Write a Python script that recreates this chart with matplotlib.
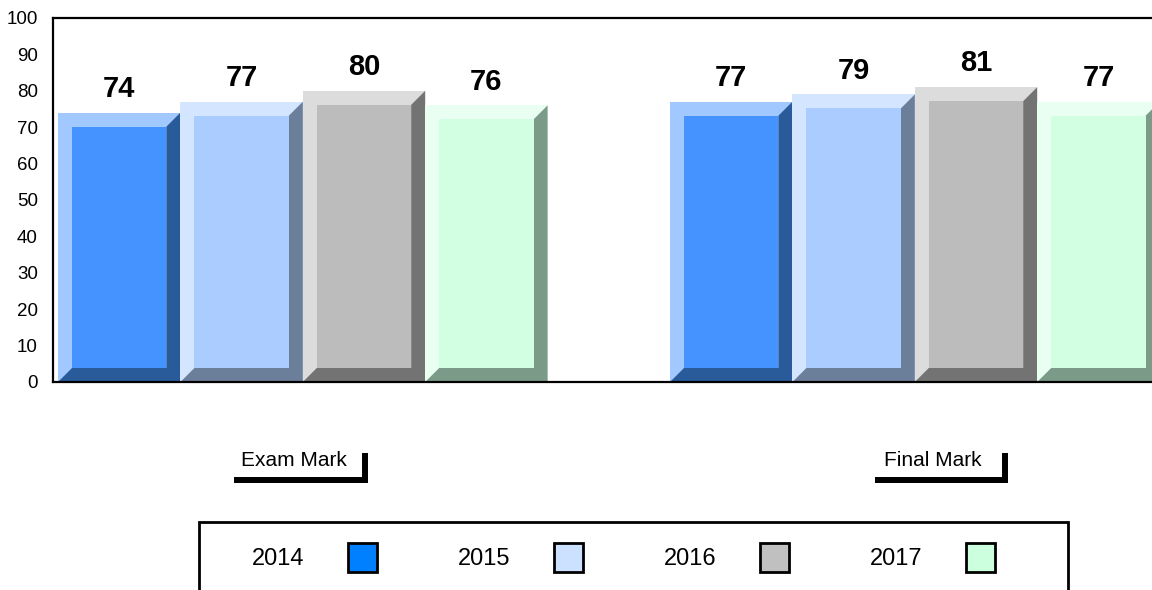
import matplotlib
matplotlib.use('Agg')
import matplotlib.pyplot as plt
from matplotlib.patches import Polygon, Rectangle
from matplotlib.lines import Line2D

plt.rcParams['font.family'] = ['Liberation Sans', 'DejaVu Sans']

# data
categories = ['Exam Mark', 'Final Mark']
years = ['2014', '2015', '2016', '2017']
exam_mark = [74, 77, 80, 76]
final_mark = [77, 79, 81, 77]

# bevel colours per year
face = ['#4493FF', '#AACCFF', '#BCBCBC', '#D2FFE2']
light = ['#A2C9FF', '#D4E6FF', '#DCDCDC', '#E8FFF2']
dark = ['#295B9B', '#6C7F9A', '#737373', '#7C9A88']
swatch = ['#0080FF', '#CCE0FF', '#C0C0C0', '#CCFFDD']

W, H = 1152, 590
fig = plt.figure(figsize=(W / 100, H / 100), dpi=100)
ax = fig.add_axes([53 / W, 1 - 382 / H, (W - 53) / W, 364 / H])

px_per_unit = 122.4
dx = 14 / px_per_unit
dy = 14 / 3.64

for g, vals in enumerate([exam_mark, final_mark]):
    for s, v in enumerate(vals):
        left = g * 5 + s
        ax.bar(left, v, width=1, align='edge', color=light[s], linewidth=0)
        ax.add_patch(Polygon([(left, 0), (left + 1, 0), (left + 1, v),
                              (left + 1 - dx, v - dy), (left + 1 - dx, dy),
                              (left + dx, dy)],
                             closed=True, facecolor=dark[s], edgecolor='none'))
        ax.bar(left + dx, v - 2 * dy, width=1 - 2 * dx, bottom=dy, align='edge',
               color=face[s], linewidth=0)
        ax.annotate(str(v), (left + 0.5, v), xytext=(0, 7), textcoords='offset points',
                    ha='center', va='bottom', fontsize=21, fontweight='bold')

ax.set_xlim(-5 / px_per_unit, 1094 / px_per_unit)
ax.set_ylim(0, 100)
ax.set_yticks(range(0, 101, 10))
ax.set_xticks([])
ax.spines['right'].set_visible(False)
for side in ['left', 'top', 'bottom']:
    ax.spines[side].set_linewidth(1.6)
    ax.spines[side].set_color('black')
ax.tick_params(axis='y', length=0, pad=11, labelsize=13.5)

# category labels with L-shaped brackets
label_x = [241, 884]
bracket_x = [(234, 368), (875, 1008)]
for cat, lx, (b0, b1) in zip(categories, label_x, bracket_x):
    fig.text(lx / W, 1 - 460 / H, cat, ha='left', va='center', fontsize=15)
    fig.add_artist(Line2D([b0 / W, b1 / W], [1 - 479.5 / H] * 2, lw=4.3, color='black',
                          solid_capstyle='butt', transform=fig.transFigure))
    fig.add_artist(Line2D([(b1 - 3) / W] * 2, [1 - 453 / H, 1 - 482 / H], lw=4.3,
                          color='black', solid_capstyle='butt', transform=fig.transFigure))

# legend box
fig.add_artist(Rectangle((199 / W, -0.05), (1068 - 199) / W, (1 - 522 / H) + 0.05,
                         fill=False, edgecolor='black', lw=2, transform=fig.transFigure))
for i, yr in enumerate(years):
    sq = 348 + 206 * i
    fig.text((sq - 96) / W, 1 - 559 / H, yr, ha='left', va='center', fontsize=17)
    fig.add_artist(Rectangle((sq / W, 1 - 572 / H), 29 / W, 29 / H, facecolor=swatch[i],
                             edgecolor='black', lw=2, transform=fig.transFigure))

fig.savefig('out.png', dpi=100)
